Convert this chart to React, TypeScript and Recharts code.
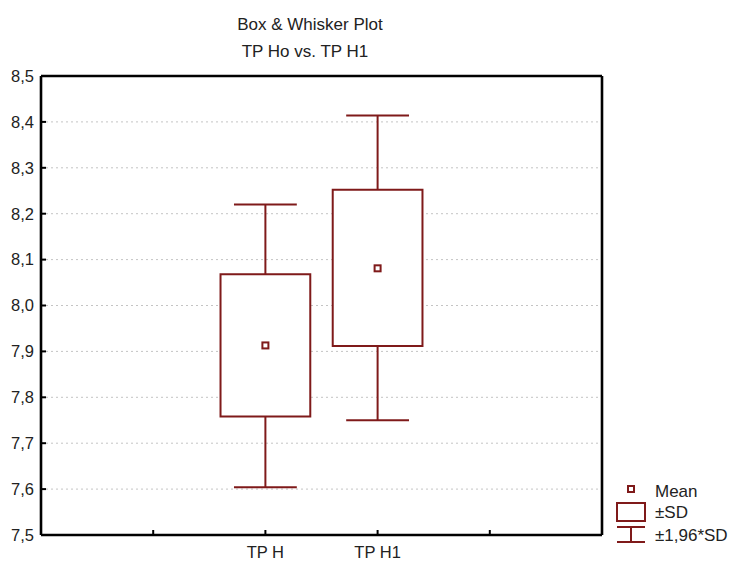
import React from 'react';
import {
  ComposedChart,
  XAxis,
  YAxis,
  CartesianGrid,
  ReferenceArea,
  ReferenceLine,
  Scatter,
  Legend,
} from 'recharts';

// ---- data ----
const categories = ['TP H', 'TP H1'];
const means = [7.913, 8.081];
const sdLow = [7.758, 7.912];
const sdHigh = [8.068, 8.252];
const ciLow = [7.604, 7.75];
const ciHigh = [8.22, 8.414];
const yTicks = [7.5, 7.6, 7.7, 7.8, 7.9, 8.0, 8.1, 8.2, 8.3, 8.4, 8.5];
const xTicks = [1, 2, 3, 4];
const legendLabels = ['Mean', '±SD', '±1,96*SD'];
const titleLines = ['Box & Whisker Plot', 'TP Ho vs. TP H1'];

// ---- layout / style ----
const W = 732;
const H = 563;
const RED = '#7f1a1a';
const FONT = '"Liberation Sans", Arial, sans-serif';
const FIRST_SLOT = 2; // categories occupy slots 2 and 3 of a 0..5 axis
const BOX_HALF = 0.4;
const CAP_HALF = 0.28;
const FRAME = { stroke: '#000', strokeWidth: 2.6 };

const pos = (i: number) => i + FIRST_SLOT;
const meanData = categories.map((c, i) => ({ x: pos(i), y: means[i], name: c }));

const fmtY = (v: number) => v.toFixed(1).replace('.', ',');
const fmtX = (v: number) => categories[v - FIRST_SLOT] ?? '';

const MeanShape = (props: any) => {
  const { cx, cy } = props;
  return (
    <rect x={cx - 3} y={cy - 3} width={6} height={6} fill="#fff" stroke={RED} strokeWidth={2} />
  );
};

const LegendContent = () => (
  <svg width={126} height={70} style={{ display: 'block', overflow: 'visible' }}>
    <rect x={22} y={8} width={6} height={6} fill="#fff" stroke={RED} strokeWidth={2} />
    <rect x={11} y={25} width={28} height={18} fill="#fff" stroke={RED} strokeWidth={2} />
    <line x1={11} x2={39} y1={49} y2={49} stroke={RED} strokeWidth={2} />
    <line x1={25} x2={25} y1={49} y2={64} stroke={RED} strokeWidth={2} />
    <line x1={11} x2={39} y1={64} y2={64} stroke={RED} strokeWidth={2} />
    {legendLabels.map((l, i) => (
      <text key={l} x={49} y={[19, 40, 63][i]} fontSize={17} fontFamily={FONT} fill="#222">
        {l}
      </text>
    ))}
  </svg>
);

export default function App() {
  const tickStyle = { fill: '#222', fontSize: 16.5, fontFamily: FONT };
  return (
    <div style={{ position: 'absolute', left: 0, top: 0, width: W, height: H, background: '#fff', fontFamily: FONT }}>
      {titleLines.map((t, i) => (
        <div
          key={t}
          style={{
            position: 'absolute',
            left: 160 - i * 5,
            width: 300,
            top: 13 + i * 27,
            textAlign: 'center',
            fontSize: 17,
            lineHeight: '24px',
            color: '#222',
          }}
        >
          {t}
        </div>
      ))}
      <ComposedChart
        width={W}
        height={H}
        margin={{ top: 75, right: 129, bottom: 0, left: 0 }}
        style={{ fontFamily: FONT }}
      >
        <CartesianGrid horizontal vertical={false} stroke="#c4c4c4" strokeDasharray="2 3" />
        <XAxis
          type="number"
          dataKey="x"
          domain={[0, 5]}
          ticks={xTicks}
          interval={0}
          tickFormatter={fmtX}
          height={28}
          tickSize={-5}
          tickMargin={16}
          axisLine={FRAME}
          tickLine={{ stroke: '#000', strokeWidth: 2 }}
          tick={tickStyle}
        />
        <XAxis
          xAxisId="top"
          orientation="top"
          type="number"
          domain={[0, 5]}
          ticks={xTicks}
          interval={0}
          tickFormatter={() => ''}
          height={1}
          tickSize={-5}
          axisLine={FRAME}
          tickLine={{ stroke: '#000', strokeWidth: 2 }}
        />
        <YAxis
          type="number"
          domain={[7.5, 8.5]}
          ticks={yTicks}
          interval={0}
          tickFormatter={fmtY}
          width={41}
          tickSize={-5}
          tickMargin={12}
          axisLine={FRAME}
          tickLine={{ stroke: '#000', strokeWidth: 2 }}
          tick={tickStyle}
        />
        <YAxis
          yAxisId="right"
          orientation="right"
          type="number"
          domain={[7.5, 8.5]}
          ticks={yTicks}
          interval={0}
          tickFormatter={() => ''}
          width={1}
          tickSize={-5}
          axisLine={FRAME}
          tickLine={{ stroke: '#000', strokeWidth: 2 }}
        />
        {categories.map((c, i) => (
          <ReferenceLine
            key={c + 'wh'}
            segment={[
              { x: pos(i), y: sdHigh[i] },
              { x: pos(i), y: ciHigh[i] },
            ]}
            stroke={RED}
            strokeWidth={2}
          />
        ))}
        {categories.map((c, i) => (
          <ReferenceLine
            key={c + 'wl'}
            segment={[
              { x: pos(i), y: ciLow[i] },
              { x: pos(i), y: sdLow[i] },
            ]}
            stroke={RED}
            strokeWidth={2}
          />
        ))}
        {categories.map((c, i) => (
          <ReferenceLine
            key={c + 'ch'}
            segment={[
              { x: pos(i) - CAP_HALF, y: ciHigh[i] },
              { x: pos(i) + CAP_HALF, y: ciHigh[i] },
            ]}
            stroke={RED}
            strokeWidth={2}
          />
        ))}
        {categories.map((c, i) => (
          <ReferenceLine
            key={c + 'cl'}
            segment={[
              { x: pos(i) - CAP_HALF, y: ciLow[i] },
              { x: pos(i) + CAP_HALF, y: ciLow[i] },
            ]}
            stroke={RED}
            strokeWidth={2}
          />
        ))}
        {categories.map((c, i) => (
          <ReferenceArea
            key={c + 'box'}
            x1={pos(i) - BOX_HALF}
            x2={pos(i) + BOX_HALF}
            y1={sdLow[i]}
            y2={sdHigh[i]}
            fill="#fff"
            fillOpacity={1}
            stroke={RED}
            strokeWidth={2}
          />
        ))}
        <Scatter data={meanData} dataKey="y" shape={<MeanShape />} isAnimationActive={false} legendType="none" />
        <Legend
          layout="horizontal"
          verticalAlign="middle"
          align="center"
          content={<LegendContent />}
          wrapperStyle={{ left: 606, top: 478, width: 126, height: 70 }}
        />
      </ComposedChart>
    </div>
  );
}
